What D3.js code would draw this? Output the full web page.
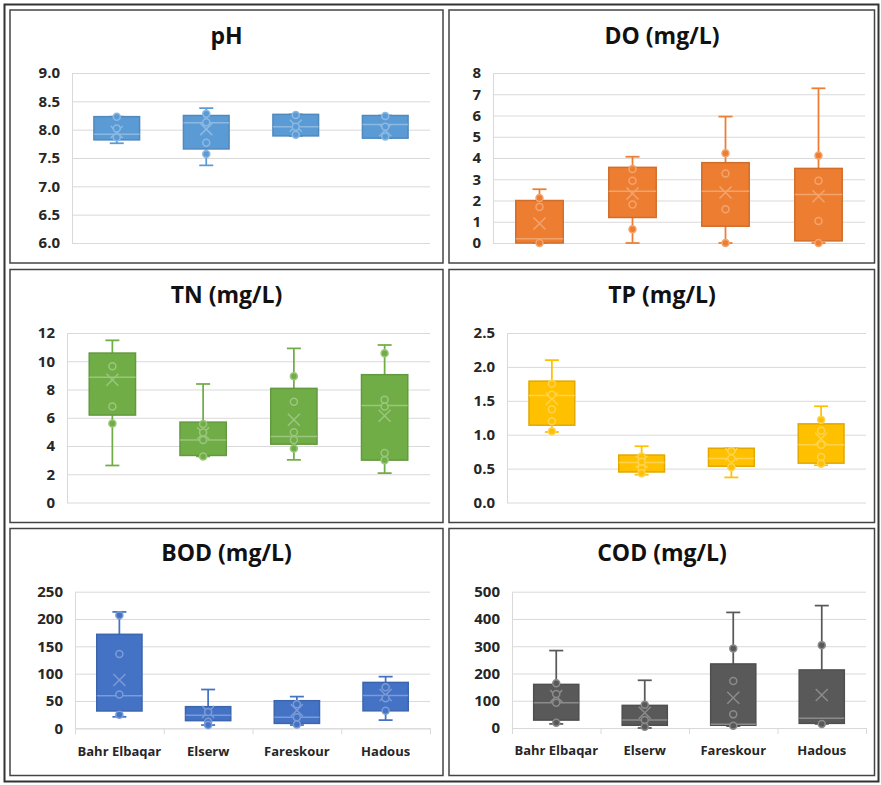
<!DOCTYPE html>
<html>
<head>
<meta charset="utf-8">
<script src="https://cdn.jsdelivr.net/npm/d3@7"></script>
<style>
body { margin: 0; background: #fff; }
text { font-family: "Open Sans", sans-serif; }
</style>
</head>
<body>
<div id="chart"></div>
<script>
// Sites (categories)
var sites = ["Bahr Elbaqar", "Elserw", "Fareskour", "Hadous"];

// box stats per site: [low whisker, Q1, median, Q3, high whisker, mean]
var phBox = [[7.76, 7.82, 7.92, 8.23, 8.23, 7.96], [7.37, 7.66, 8.12, 8.25, 8.38, 8.01], [7.89, 7.89, 8.05, 8.27, 8.27, 8.07], [7.85, 7.85, 8.09, 8.25, 8.25, 7.99]];
var phPts = [[8.23, 8.02, 7.86], [8.28, 8.13, 7.77, 7.57], [8.26, 8.05, 7.91], [8.24, 8.05, 7.88]];

var doBox = [[0, 0, 0.2, 2.0, 2.53, 0.92], [0, 1.2, 2.44, 3.56, 4.06, 2.33], [0, 0.79, 2.44, 3.78, 5.95, 2.38], [0, 0.1, 2.28, 3.51, 7.28, 2.2]];
var doPts = [[2.12, 1.7, 0], [3.48, 2.93, 1.81, 0.65], [4.22, 3.27, 1.59, 0], [4.12, 2.93, 1.04, 0]];

var tnBox = [[2.62, 6.19, 8.86, 10.58, 11.48, 8.69], [3.26, 3.33, 4.42, 5.69, 8.39, 4.9], [3.02, 4.13, 4.68, 8.08, 10.91, 5.86], [2.08, 3.0, 6.87, 9.05, 11.15, 6.14]];
var tnPts = [[9.64, 6.8, 5.6], [5.55, 4.95, 4.42, 3.26], [8.93, 7.13, 4.98, 4.42, 3.83], [10.56, 7.28, 6.8, 3.5, 3.0]];

var tpBox = [[1.04, 1.14, 1.58, 1.79, 2.10, 1.53], [0.41, 0.45, 0.59, 0.70, 0.83, 0.6], [0.37, 0.535, 0.65, 0.80, 0.80, 0.71], [0.55, 0.58, 0.85, 1.16, 1.42, 0.94]];
var tpPts = [[1.75, 1.59, 1.375, 1.2, 1.05], [0.68, 0.6, 0.5, 0.43], [0.76, 0.65, 0.52], [1.22, 1.06, 0.85, 0.67, 0.57]];

var bodBox = [[21, 31.7, 59.6, 172, 213, 88.4], [6, 14, 24, 39.6, 71, 30], [6, 9, 20, 50.5, 58, 33], [15, 32, 60, 84, 94.5, 61]];
var bodPts = [[207, 136, 62, 25], [30, 12, 6], [44, 20, 7], [75, 55, 32]];

var codBox = [[15, 29, 93, 160, 284, 117], [0, 10, 29, 83, 175, 56], [7, 10, 14, 235, 424, 111], [15, 17, 36, 213, 449, 121]];
var codPts = [[164, 125, 93, 19.5], [85, 29, 5], [292, 172, 50, 8], [304, 15]];

// tick values for each y axis
var phTicks = [6.0, 6.5, 7.0, 7.5, 8.0, 8.5, 9.0];
var doTicks = [0, 1, 2, 3, 4, 5, 6, 7, 8];
var tnTicks = [0, 2, 4, 6, 8, 10, 12];
var tpTicks = [0.0, 0.5, 1.0, 1.5, 2.0, 2.5];
var bodTicks = [0, 50, 100, 150, 200, 250];
var codTicks = [0, 100, 200, 300, 400, 500];

var svg = d3.select("#chart")
    .append("svg")
    .attr("width", 881)
    .attr("height", 785);

svg.append("rect").attr("width", 881).attr("height", 785).attr("fill", "#fff");

// table frame + cell borders
svg.append("rect")
    .attr("x", 4.5).attr("y", 4.5).attr("width", 874).attr("height", 777)
    .attr("fill", "none").attr("stroke", "#333").attr("stroke-width", 2);

var cells = [[10, 10, 433, 253], [449, 10, 425.5, 253], [10, 269.5, 433, 253], [449, 269.5, 425.5, 253], [10, 528.5, 433, 247], [449, 528.5, 425.5, 247]];
svg.selectAll(".cell").data(cells).enter().append("rect")
    .attr("x", d => d[0]).attr("y", d => d[1])
    .attr("width", d => d[2]).attr("height", d => d[3])
    .attr("fill", "none").attr("stroke", "#444").attr("stroke-width", 1.5);

function drawPanel(p) {
    var g = svg.append("g");

    var x = d3.scaleBand()
        .domain(sites)
        .range([p.left, p.right])
        .paddingInner(0.49)
        .paddingOuter(0.245);

    var y = d3.scaleLinear()
        .domain([p.ticks[0], p.ticks[p.ticks.length - 1]])
        .range([p.bottom, p.top]);

    var light = d3.interpolateRgb(p.color, "#fff")(0.3);
    var dark = d3.color(p.color).darker(0.35);
    var bw = x.bandwidth();

    // title
    g.append("text")
        .attr("x", p.cx)
        .attr("y", p.titleY)
        .attr("text-anchor", "middle")
        .attr("font-size", 23)
        .attr("font-weight", 700)
        .attr("fill", "#111")
        .text(p.title);

    // y axis with gridlines
    var leftAxis = d3.axisLeft(y)
        .tickValues(p.ticks)
        .tickFormat(p.fmt)
        .tickSize(-(p.right - p.left))
        .tickSizeOuter(0)
        .tickPadding(12);

    var ag = g.append("g")
        .attr("transform", `translate(${p.left},0)`)
        .call(leftAxis);
    ag.select(".domain").attr("stroke", "#d9d9d9");
    ag.selectAll(".tick line").attr("stroke", "#d9d9d9");
    ag.selectAll(".tick text")
        .attr("font-size", 15)
        .attr("font-weight", 700)
        .attr("fill", "#262626")
        .attr("font-family", "'Open Sans', sans-serif");

    // category axis only on bottom row
    if (p.showX) {
        var edge = d3.scaleLinear().domain([0, 4]).range([p.left, p.right]);
        var tickAxis = d3.axisBottom(edge).tickValues([0, 1, 2, 3, 4]).tickFormat("").tickSize(6).tickSizeOuter(0);
        var tg = g.append("g").attr("transform", `translate(0,${p.bottom})`).call(tickAxis);
        tg.select(".domain").attr("stroke", "#d9d9d9");
        tg.selectAll(".tick line").attr("stroke", "#d9d9d9");

        var bottomAxis = d3.axisBottom(x).tickSize(0).tickPadding(18);
        var xg = g.append("g").attr("transform", `translate(0,${p.bottom})`).call(bottomAxis);
        xg.select(".domain").remove();
        xg.selectAll(".tick text")
            .attr("font-size", 13)
            .attr("font-weight", 700)
            .attr("fill", "#262626")
            .attr("font-family", "'Open Sans', sans-serif");
    }

    var site = g.selectAll(".site")
        .data(p.box)
        .enter().append("g")
        .attr("transform", (d, i) => `translate(${x(sites[i])},0)`);

    // whiskers
    site.append("line")
        .attr("x1", bw / 2).attr("x2", bw / 2)
        .attr("y1", d => y(d[4])).attr("y2", d => y(d[3]))
        .attr("stroke", p.color).attr("stroke-width", 1.75);
    site.append("line")
        .attr("x1", bw / 2).attr("x2", bw / 2)
        .attr("y1", d => y(d[1])).attr("y2", d => y(d[0]))
        .attr("stroke", p.color).attr("stroke-width", 1.75);
    site.append("line")
        .attr("x1", bw / 2 - 7).attr("x2", bw / 2 + 7)
        .attr("y1", d => y(d[4])).attr("y2", d => y(d[4]))
        .attr("stroke", p.color).attr("stroke-width", 1.75);
    site.append("line")
        .attr("x1", bw / 2 - 7).attr("x2", bw / 2 + 7)
        .attr("y1", d => y(d[0])).attr("y2", d => y(d[0]))
        .attr("stroke", p.color).attr("stroke-width", 1.75);

    // box
    site.append("rect")
        .attr("x", 0)
        .attr("y", d => y(d[3]))
        .attr("width", bw)
        .attr("height", d => y(d[1]) - y(d[3]))
        .attr("fill", p.color)
        .attr("stroke", dark)
        .attr("stroke-width", 1.5);

    // median
    site.append("line")
        .attr("x1", 0).attr("x2", bw)
        .attr("y1", d => y(d[2])).attr("y2", d => y(d[2]))
        .attr("stroke", light).attr("stroke-width", 1.5);

    // mean marker (x)
    site.append("path")
        .attr("d", d => {
            var cy = y(d[5]), c = bw / 2, s = 6;
            return `M${c - s},${cy - s}L${c + s},${cy + s}M${c - s},${cy + s}L${c + s},${cy - s}`;
        })
        .attr("stroke", light).attr("stroke-width", 1.5).attr("fill", "none");

    // inner points
    site.each(function(d, i) {
        d3.select(this).selectAll("circle")
            .data(p.pts[i])
            .enter().append("circle")
            .attr("cx", bw / 2)
            .attr("cy", v => y(v))
            .attr("r", 3.5)
            .attr("fill", p.color)
            .attr("stroke", light)
            .attr("stroke-width", 1.5);
    });
}

var f1 = d3.format(".1f");
var f0 = d3.format("d");

drawPanel({title: "pH", cx: 226.5, titleY: 43.5, left: 72, right: 430, top: 73, bottom: 243,
    ticks: phTicks, fmt: f1, color: "#5b9bd5", box: phBox, pts: phPts, showX: false});
drawPanel({title: "DO (mg/L)", cx: 662, titleY: 43.5, left: 493, right: 865, top: 73, bottom: 243,
    ticks: doTicks, fmt: f0, color: "#ed7d31", box: doBox, pts: doPts, showX: false});
drawPanel({title: "TN (mg/L)", cx: 226.5, titleY: 303, left: 67, right: 430, top: 333, bottom: 502.5,
    ticks: tnTicks, fmt: f0, color: "#70ad47", box: tnBox, pts: tnPts, showX: false});
drawPanel({title: "TP (mg/L)", cx: 662, titleY: 303, left: 507, right: 866, top: 333, bottom: 502.5,
    ticks: tpTicks, fmt: f1, color: "#ffc000", box: tpBox, pts: tpPts, showX: false});
drawPanel({title: "BOD (mg/L)", cx: 226.5, titleY: 561, left: 75, right: 430, top: 591.7, bottom: 728.3,
    ticks: bodTicks, fmt: f0, color: "#4472c4", box: bodBox, pts: bodPts, showX: true});
drawPanel({title: "COD (mg/L)", cx: 662, titleY: 561, left: 512, right: 866, top: 591.7, bottom: 728,
    ticks: codTicks, fmt: f0, color: "#595959", box: codBox, pts: codPts, showX: true});
</script>
</body>
</html>
